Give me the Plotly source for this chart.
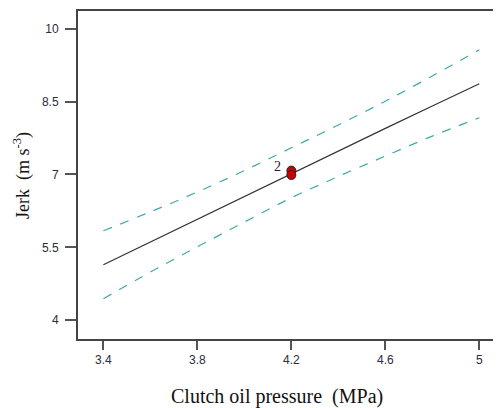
import plotly.graph_objects as go

# Data
pressure = [3.4, 3.6, 3.8, 4.0, 4.2, 4.4, 4.6, 4.8, 5.0]
jerk_pred = [5.14, 5.61, 6.07, 6.54, 7.02, 7.48, 7.95, 8.41, 8.87]
jerk_upper = [5.84, 6.23, 6.64, 7.08, 7.55, 8.02, 8.51, 9.03, 9.57]
jerk_lower = [4.44, 4.99, 5.51, 6.02, 6.52, 6.96, 7.38, 7.79, 8.17]
design_x = [4.2, 4.2]
design_y = [7.08, 6.99]
x_ticks = [3.4, 3.8, 4.2, 4.6, 5.0]
x_ticklabels = ["3.4", "3.8", "4.2", "4.6", "5"]
y_ticks = [4, 5.5, 7, 8.5, 10]
y_ticklabels = ["4", "5.5", "7", "8.5", "10"]

teal = "#3fa9aa"
fig = go.Figure()
fig.add_trace(go.Scatter(x=pressure, y=jerk_upper, mode="lines",
                         line=dict(color=teal, width=1.2, dash="dash"), line_shape="spline"))
fig.add_trace(go.Scatter(x=pressure, y=jerk_lower, mode="lines",
                         line=dict(color=teal, width=1.2, dash="dash"), line_shape="spline"))
fig.add_trace(go.Scatter(x=pressure, y=jerk_pred, mode="lines",
                         line=dict(color="#333333", width=1.2)))
fig.add_trace(go.Scatter(x=design_x, y=design_y, mode="markers",
                         marker=dict(color="#cc0000", size=9, line=dict(color="#222222", width=1))))

fig.add_annotation(x=design_x[0], y=design_y[0], text="2", showarrow=False,
                   xshift=-14, yshift=4,
                   font=dict(family="Liberation Serif", size=14, color="#222222"))

fig.update_layout(
    width=493, height=400,
    margin=dict(l=70, r=1, t=1, b=69),
    paper_bgcolor="white", plot_bgcolor="white",
    showlegend=False,
    xaxis=dict(range=[3.292, 5.088], tickvals=x_ticks, ticktext=x_ticklabels,
               showgrid=False, zeroline=False, showline=True, linecolor="#444444", linewidth=2,
               mirror=True, ticks="outside", ticklen=9, tickcolor="#555555", tickwidth=1.5,
               tickfont=dict(family="Liberation Sans", size=12, color="#2b2b3a")),
    yaxis=dict(range=[3.611, 10.368], tickvals=y_ticks, ticktext=y_ticklabels,
               showgrid=False, zeroline=False, showline=True, linecolor="#444444", linewidth=2,
               ticks="outside", ticklen=11, tickcolor="#555555", tickwidth=1.5,
               ticklabelstandoff=4,
               tickfont=dict(family="Liberation Sans", size=12, color="#2b2b3a")),
)

fig.add_annotation(xref="paper", yref="paper", x=(277 - 78) / 422, y=-(397 - 339) / 330,
                   text="Clutch oil pressure  (MPa)", showarrow=False,
                   xanchor="center", yanchor="middle",
                   font=dict(family="Liberation Serif", size=20, color="#111111"))
fig.add_annotation(xref="paper", yref="paper", x=-(78 - 22) / 422, y=0.5,
                   text="Jerk  (m s<sup>-3</sup>)", showarrow=False, textangle=-90,
                   xanchor="center", yanchor="middle",
                   font=dict(family="Liberation Serif", size=18, color="#111111"))

fig.write_html("out.html")
